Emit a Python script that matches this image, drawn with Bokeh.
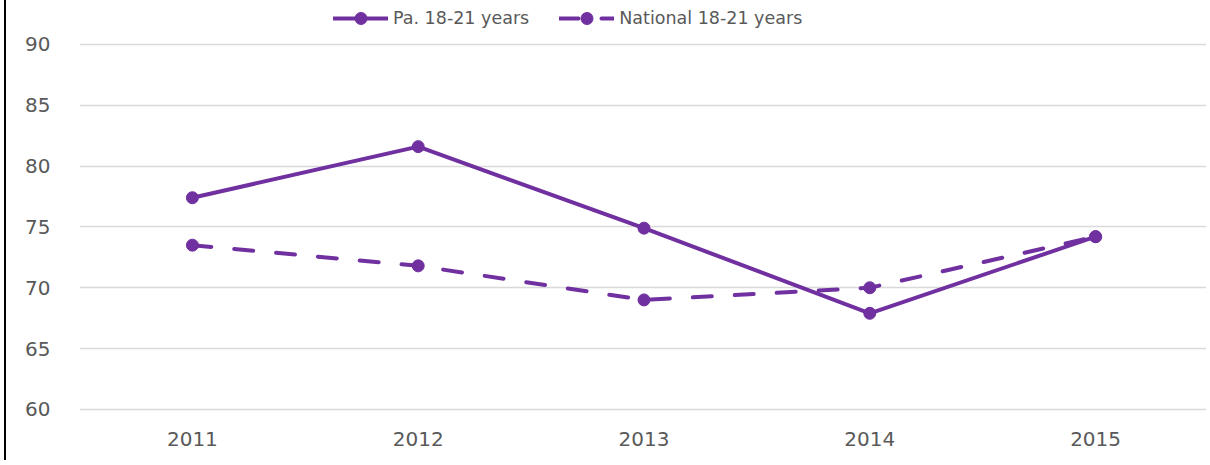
from bokeh.plotting import figure
from bokeh.models import Legend, LegendItem, Range1d, FactorRange, FixedTicker
from bokeh.embed import file_html
from bokeh.resources import INLINE

years = ["2011", "2012", "2013", "2014", "2015"]
pa_values = [77.4, 81.6, 74.9, 67.9, 74.2]
national_values = [73.5, 71.8, 69.0, 70.0, 74.2]
series_names = ["Pa. 18-21 years", "National 18-21 years"]
y_ticks = [60, 65, 70, 75, 80, 85, 90]

PURPLE = "#7030A0"
GRAY = "#595959"
FONT = "DejaVu Sans"

p = figure(width=1202, height=460, x_range=FactorRange(*years), y_range=Range1d(59.5, 93.2),
           output_backend="svg", toolbar_location=None,
           min_border_left=73, min_border_right=0, min_border_top=5, min_border_bottom=45)
p.outline_line_color = None
p.background_fill_color = "white"
p.styles = {"border-left": "2px solid black", "margin-left": "4px"}

p.xgrid.grid_line_color = None
p.ygrid.grid_line_color = "#D9D9D9"
p.ygrid.grid_line_width = 1.5
p.yaxis.ticker = FixedTicker(ticks=y_ticks)

for ax in (p.xaxis, p.yaxis):
    ax.axis_line_color = None
    ax.major_tick_line_color = None
    ax.minor_tick_line_color = None
    ax.major_label_text_color = GRAY
    ax.major_label_text_font = FONT
    ax.major_label_text_font_size = "20px"
p.yaxis.major_label_standoff = 23
p.xaxis.major_label_standoff = 10
p.x_range.range_padding = 0

r1 = p.line(years, pa_values, line_color=PURPLE, line_width=4, line_join="round", line_cap="round")
c1 = p.scatter(years, pa_values, size=12, fill_color=PURPLE, line_color=PURPLE)
r2 = p.line(years, national_values, line_color=PURPLE, line_width=4, line_dash="19 23", line_cap="round")
c2 = p.scatter(years, national_values, size=12, fill_color=PURPLE, line_color=PURPLE)

legend = Legend(items=[LegendItem(label=series_names[0], renderers=[r1, c1]),
                       LegendItem(label=series_names[1], renderers=[r2, c2])],
                location=(254, 382), orientation="horizontal",
                glyph_width=55, glyph_height=30, label_standoff=5, spacing=30,
                padding=0, margin=0, border_line_color=None, background_fill_alpha=0,
                label_text_font=FONT, label_text_font_size="17.5px", label_text_color=GRAY,
                label_height=30)
p.add_layout(legend, "center")

open("out.html", "w").write(file_html(p, INLINE))
